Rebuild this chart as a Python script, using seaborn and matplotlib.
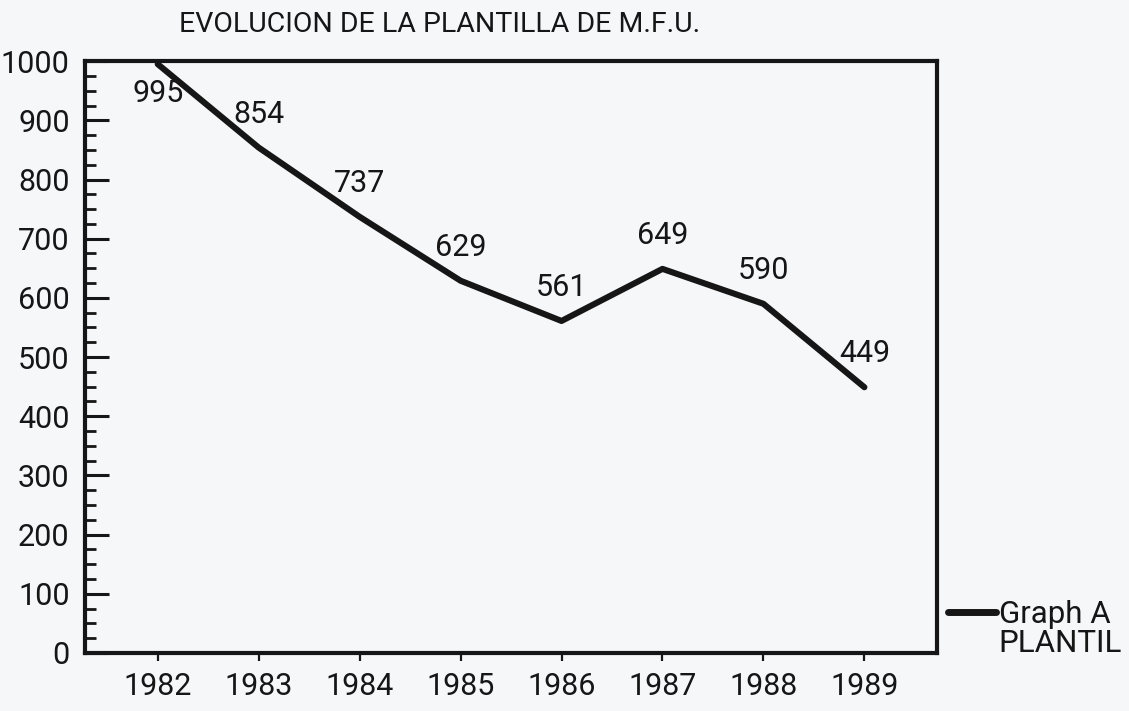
import matplotlib
matplotlib.use("Agg")
import matplotlib.pyplot as plt
from matplotlib.lines import Line2D
import matplotlib.ticker as mtick
import pandas as pd
import seaborn as sns

# Datos
anios = [1982, 1983, 1984, 1985, 1986, 1987, 1988, 1989]
plantilla = [995, 854, 737, 629, 561, 649, 590, 449]
titulo = "EVOLUCION DE LA PLANTILLA DE M.F.U."
leyenda = ["Graph A", "PLANTIL"]

df = pd.DataFrame({"anio": anios, "plantilla": plantilla})

sns.set_style("white")
plt.rcParams["font.family"] = ["Roboto", "DejaVu Sans"]
tinta = "#161616"
papel = "#f6f7f9"

fig = plt.figure(figsize=(11.29, 7.11), dpi=100, facecolor=papel)
ax = fig.add_axes([0.0753, 0.0816, 0.7547, 0.8324])
ax.set_facecolor(papel)

sns.lineplot(data=df, x="anio", y="plantilla", ax=ax, color=tinta,
             linewidth=4.4, legend=False)

ax.set_xlim(1981.28, 1989.72)
ax.set_ylim(0, 1000)
ax.set_xticks(anios)
ax.set_xticklabels([str(a) for a in anios])
ax.yaxis.set_major_locator(mtick.MultipleLocator(100))
ax.yaxis.set_minor_locator(mtick.MultipleLocator(25))

ax.tick_params(left=True, bottom=True)
ax.tick_params(axis="y", which="minor", left=True)
ax.tick_params(axis="y", which="major", direction="in", length=17, width=2.2,
               color=tinta, labelsize=22, labelcolor=tinta, pad=11)
ax.tick_params(axis="y", which="minor", direction="in", length=8, width=2.0,
               color=tinta)
ax.tick_params(axis="x", which="major", direction="out", length=6, width=1.6,
               color=tinta, labelsize=22, labelcolor=tinta, pad=8)
ax.set_xlabel("")
ax.set_ylabel("")

for spine in ax.spines.values():
    spine.set_visible(True)
    spine.set_color(tinta)
    spine.set_linewidth(3)

# Etiquetas de valores sobre cada punto
for x, y in zip(anios, plantilla):
    dy = 24 if y < 940 else -21
    ax.annotate(str(y), (x, y), xytext=(0, dy), textcoords="offset points",
                ha="center", va="center", fontsize=22, color=tinta)

fig.text(440 / 1129, 1 - 25 / 711, titulo, ha="center", va="center",
         fontsize=20.5, color=tinta)

handles = [Line2D([], [], color=tinta, linewidth=5),
           Line2D([], [], color="none")]
ax.legend(handles, leyenda, loc="center left", bbox_to_anchor=(0.994, 0.04),
          frameon=False, fontsize=22.5, handlelength=1.55, handletextpad=0.08,
          labelspacing=0.0, borderpad=0, labelcolor=tinta)

fig.savefig("out.png", dpi=100, facecolor=papel)
